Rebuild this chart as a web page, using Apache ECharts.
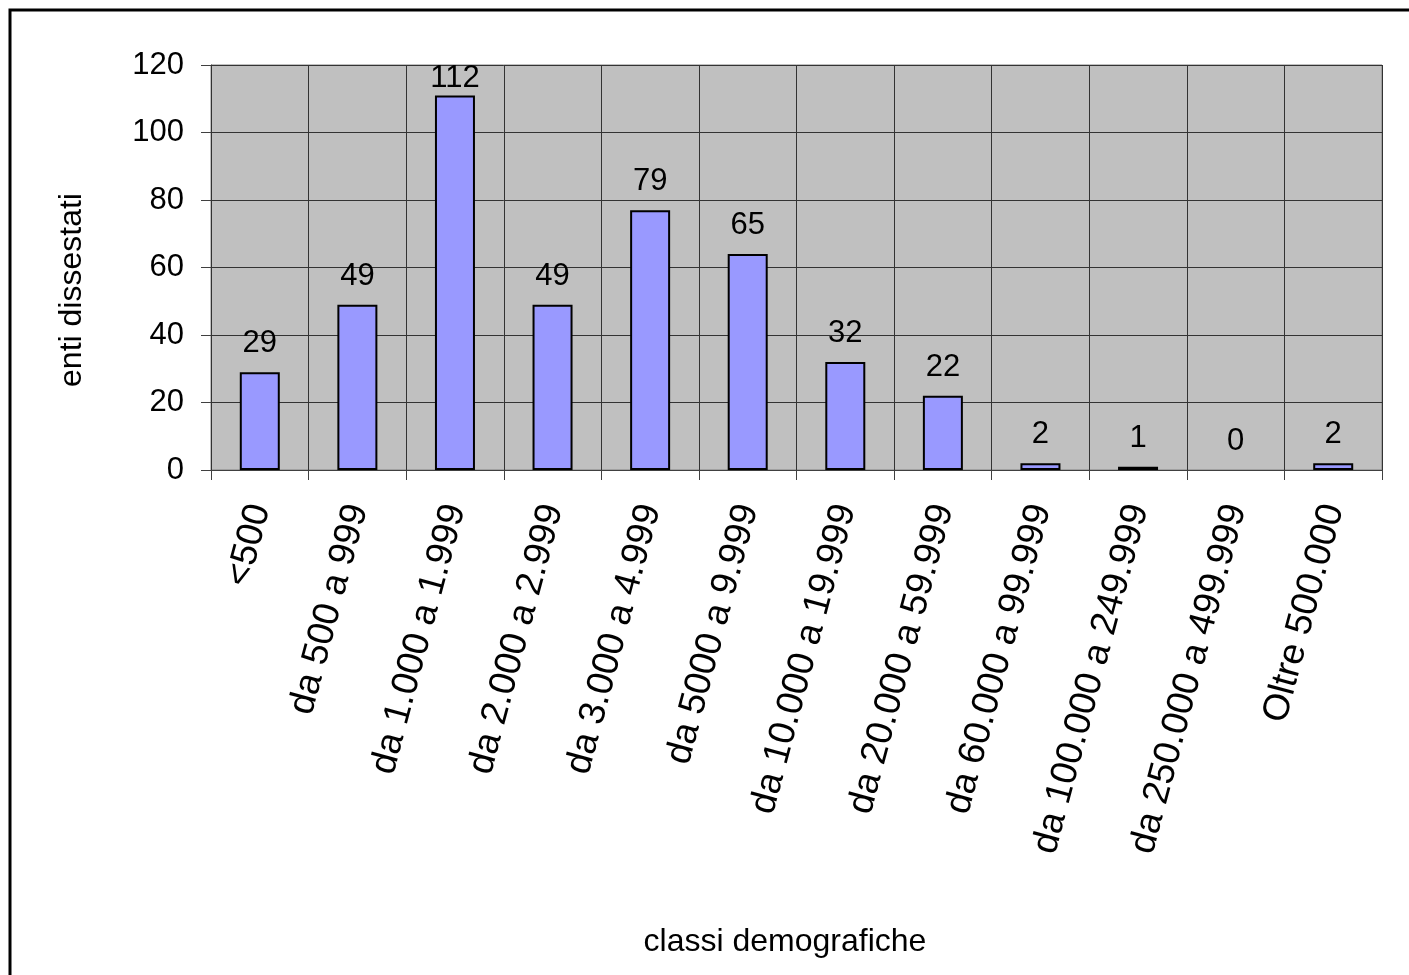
<!DOCTYPE html>
<html><head><meta charset="utf-8">
<style>html,body{margin:0;padding:0;background:#fff}#c{width:1409px;height:975px}</style>
<script src="https://cdn.jsdelivr.net/npm/echarts@6/dist/echarts.min.js"></script>
</head><body><div id="c"></div>
<script>
const categories = ['<500','da 500 a 999','da 1.000 a 1.999','da 2.000 a 2.999','da 3.000 a 4.999','da 5000 a 9.999','da 10.000 a 19.999','da 20.000 a 59.999','da 60.000 a 99.999','da 100.000 a 249.999','da 250.000 a 499.999','Oltre 500.000'];
const barValues = [29,49,111,49,77,64,32,22,2,1,0,2];
const valueLabels = [29,49,112,49,79,65,32,22,2,1,0,2];
const yMin = 0, yMax = 120, yInterval = 20;
const xTitle = 'classi demografiche';
const yTitle = 'enti dissestati';

const FONT = "'Liberation Sans', Arial, sans-serif";
const chart = echarts.init(document.getElementById('c'), null, {renderer:'canvas'});

const data = barValues.map((v, i) => {
  const item = {value: v, label: {formatter: String(valueLabels[i])}};
  if (v > yMax - 12) item.label.distance = 1;
  if (v === 0) item.itemStyle = {borderWidth: 0};
  return item;
});

chart.setOption({
  animation: false,
  backgroundColor: '#ffffff',
  grid: {left: 211, right: 27, top: 65, bottom: 505, show: true, backgroundColor: '#C0C0C0', borderColor: '#808080', borderWidth: 1},
  xAxis: {
    type: 'category', data: categories, boundaryGap: true,
    axisLine: {show: true, lineStyle: {color: '#404040', width: 1}},
    axisTick: {show: true, length: 10, lineStyle: {color: '#404040'}},
    splitLine: {show: true, lineStyle: {color: '#333333', width: 1}},
    axisLabel: {interval: 0, rotate: 75, margin: 35, fontSize: 37, fontFamily: FONT, color: '#000'}
  },
  yAxis: {
    type: 'value', min: yMin, max: yMax, interval: yInterval,
    axisLine: {show: true, lineStyle: {color: '#333333', width: 1}},
    axisTick: {show: true, length: 10, lineStyle: {color: '#404040'}},
    splitLine: {show: true, lineStyle: {color: '#333333', width: 1}},
    axisLabel: {margin: 27, fontSize: 31, fontFamily: FONT, color: '#000'}
  },
  series: [{
    type: 'bar', data: data, barWidth: 40,
    itemStyle: {color: '#9999FF', borderColor: '#000', borderWidth: 2},
    label: {show: true, position: 'top', distance: 13, fontSize: 31, fontFamily: FONT, color: '#000'}
  }],
  graphic: [
    {type: 'rect', shape: {x: 10, y: 10, width: 1500, height: 1100}, style: {fill: 'none', stroke: '#000', lineWidth: 3}, silent: true},
    {type: 'text', x: 785, y: 942, style: {text: xTitle, font: "32px " + FONT, fill: '#000', textAlign: 'center', textVerticalAlign: 'middle'}},
    {type: 'text', x: 72, y: 290, rotation: Math.PI / 2, style: {text: yTitle, font: "32px " + FONT, fill: '#000', textAlign: 'center', textVerticalAlign: 'middle'}}
  ]
});
</script></body></html>
